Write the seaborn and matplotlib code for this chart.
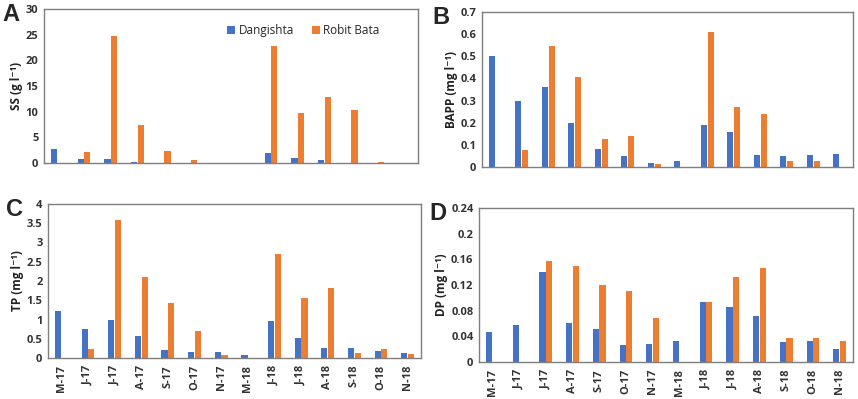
import numpy as np
import pandas as pd
import seaborn as sns
import matplotlib.pyplot as plt
import matplotlib.ticker as ticker

# 月份與站點
months = ['May-17', 'Jun-17', 'Jul-17', 'Aug-17', 'Sep-17', 'Oct-17', 'Nov-17',
          'May-18', 'Jun-18', 'Jul-18', 'Aug-18', 'Sep-18', 'Oct-18', 'Nov-18']
tick_labels = ['M-17', 'J-17', 'J-17', 'A-17', 'S-17', 'O-17', 'N-17',
               'M-18', 'J-18', 'J-18', 'A-18', 'S-18', 'O-18', 'N-18']
sites = ['Dangishta', 'Robit Bata']

# A: SS (g/l)
ss_dang = [2.7, 0.85, 0.7, 0.26, 0, 0, 0, 0, 1.9, 1.05, 0.6, 0, 0, 0]
ss_robit = [0, 2.1, 24.8, 7.5, 2.4, 0.55, 0, 0, 22.7, 9.7, 12.9, 10.3, 0.2, 0]

# B: BAPP (mg/l)
bapp_dang = [0.50, 0.30, 0.363, 0.198, 0.080, 0.051, 0.017, 0.027, 0.188, 0.160, 0.054, 0.050, 0.054, 0.057]
bapp_robit = [0, 0.079, 0.546, 0.405, 0.127, 0.139, 0.012, 0, 0.611, 0.272, 0.240, 0.027, 0.027, 0]

# C: TP (mg/l)
tp_dang = [1.22, 0.76, 1.0, 0.57, 0.20, 0.16, 0.16, 0.07, 0.97, 0.53, 0.26, 0.26, 0.18, 0.13]
tp_robit = [0, 0.23, 3.59, 2.10, 1.42, 0.69, 0.07, 0, 2.71, 1.55, 1.81, 0.13, 0.24, 0.10]

# D: DP (mg/l)
dp_dang = [0.046, 0.058, 0.141, 0.061, 0.052, 0.027, 0.028, 0.032, 0.093, 0.085, 0.071, 0.031, 0.032, 0.021]
dp_robit = [0, 0, 0.158, 0.149, 0.120, 0.110, 0.069, 0, 0.093, 0.132, 0.147, 0.038, 0.038, 0.032]

panels = [
    ('A', 'SS (g l⁻¹)', ss_dang, ss_robit, 30, 5),
    ('B', 'BAPP (mg l⁻¹)', bapp_dang, bapp_robit, 0.7, 0.1),
    ('C', 'TP (mg l⁻¹)', tp_dang, tp_robit, 4, 0.5),
    ('D', 'DP (mg l⁻¹)', dp_dang, dp_robit, 0.24, 0.04),
]

sns.set_style('white')
plt.rcParams['font.family'] = ['Open Sans', 'DejaVu Sans']
palette = {'Dangishta': '#4472C4', 'Robit Bata': '#ED7D31'}

fig = plt.figure(figsize=(8.58, 3.99), dpi=100)
W, H = 858, 399
# 各子圖位置 (像素: 左, 右, 上, 下)
boxes = {
    'A': (44, 418, 9, 163),
    'B': (482, 853, 12, 167),
    'C': (48, 421, 204, 358),
    'D': (479, 853, 208, 362),
}

for letter, ylabel, dang, robit, ymax, step in panels:
    l, r, t, b = boxes[letter]
    ax = fig.add_axes([l / W, 1 - b / H, (r - l) / W, (b - t) / H])
    df = pd.DataFrame({
        'month': months * 2,
        'site': [sites[0]] * len(months) + [sites[1]] * len(months),
        'value': dang + robit,
    })
    sns.barplot(data=df, x='month', y='value', hue='site', order=months,
                hue_order=sites, palette=palette, width=0.5, gap=0.08,
                linewidth=0, saturation=1, ax=ax, legend=(letter == 'A'))
    ax.set_ylim(0, ymax)
    ax.set_xlim(-0.5, len(months) - 0.5)
    ax.yaxis.set_major_locator(ticker.MultipleLocator(step))
    ax.yaxis.set_major_formatter(ticker.FuncFormatter(lambda v, p: f'{round(v, 3):g}'))
    ax.set_xlabel('')
    ax.set_ylabel(ylabel, fontsize=8.5, fontweight='bold', color='#222222', labelpad=2)
    ax.tick_params(axis='y', length=0, labelsize=8, labelcolor='#333333', pad=4)
    if letter in ('C', 'D'):
        ax.set_xticks(range(len(months)))
        ax.set_xticklabels(tick_labels, rotation=90, fontsize=8, fontweight='bold', color='#333333')
        ax.tick_params(axis='x', length=0, pad=5)
    else:
        ax.set_xticks([])
    for lbl in ax.get_yticklabels():
        lbl.set_fontweight('bold')
    for s in ax.spines.values():
        s.set_color('#7f7f7f')
        s.set_linewidth(1)
    if letter == 'A':
        ax.legend(loc='upper left', bbox_to_anchor=(0.46, 0.97), ncol=2, frameon=False,
                  fontsize=8.5, handlelength=0.7, handleheight=0.7, handletextpad=0.3,
                  columnspacing=1.5, title=None)
    fig.text((l - 42) / W if letter in ('A', 'C') else (l - 50) / W,
             1 - (t + 12) / H, letter, fontsize=17, fontweight='bold',
             family=['Liberation Sans', 'DejaVu Sans'])

fig.savefig('out.png', dpi=100)
